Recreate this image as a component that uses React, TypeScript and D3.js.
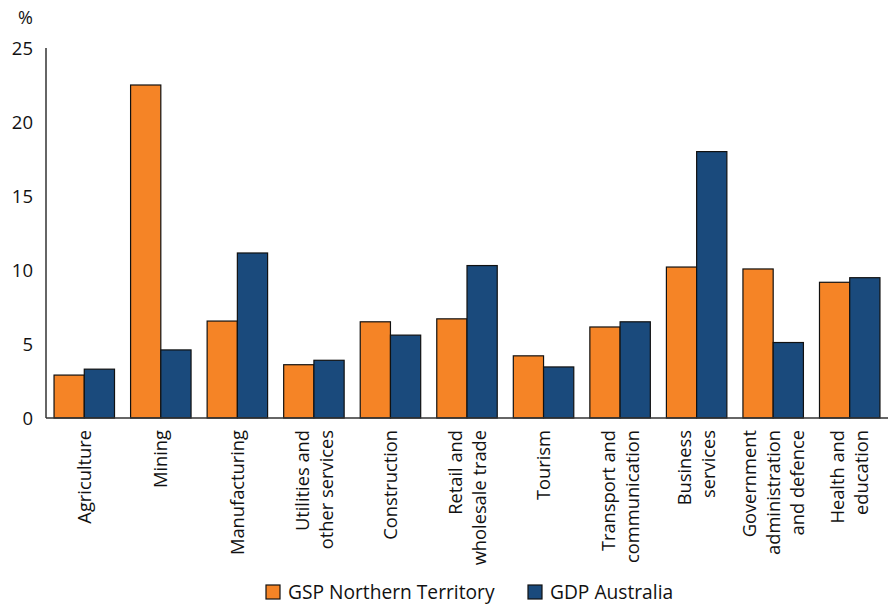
import React from "react";
import * as d3 from "d3";

// Industry shares of output, per cent
const categories: string[][] = [
  ["Agriculture"],
  ["Mining"],
  ["Manufacturing"],
  ["Utilities and", "other services"],
  ["Construction"],
  ["Retail and", "wholesale trade"],
  ["Tourism"],
  ["Transport and", "communication"],
  ["Business", "services"],
  ["Government", "administration", "and defence"],
  ["Health and", "education"],
];
const gspNT = [2.9, 22.5, 6.55, 3.6, 6.5, 6.7, 4.2, 6.15, 10.2, 10.07, 9.17];
const gdpAus = [3.3, 4.6, 11.15, 3.9, 5.6, 10.3, 3.45, 6.5, 18.0, 5.1, 9.48];
const yTicks = [0, 5, 10, 15, 20, 25];
const seriesNames = ["GSP Northern Territory", "GDP Australia"];
const seriesColors = ["#F58426", "#1A4A7C"];

const W = 890;
const H = 605;
const left = 46;
const right = 888;
const top = 48;
const bottom = 418;
const font = "'Open Sans', 'Noto Sans', sans-serif";

export default function App() {
  const x = d3
    .scaleBand<number>()
    .domain(d3.range(categories.length))
    .range([left, right])
    .paddingInner(0.21)
    .paddingOuter(0.105);
  const inner = d3.scaleBand<number>().domain([0, 1]).range([0, x.bandwidth()]);
  const y = d3.scaleLinear().domain([0, 25]).range([bottom, top]);
  const series = [gspNT, gdpAus];
  const lineGap = 24;

  return (
    <svg
      width={W}
      height={H}
      style={{ position: "absolute", left: 0, top: 0, background: "#fff" }}
      fontFamily={font}
    >
      {/* bars */}
      {series.map((vals, s) =>
        vals.map((v, i) => (
          <rect
            key={`${s}-${i}`}
            x={(x(i) as number) + (inner(s) as number)}
            y={y(v)}
            width={inner.bandwidth()}
            height={bottom - y(v)}
            fill={seriesColors[s]}
            stroke="#111"
            strokeWidth={1.2}
          />
        ))
      )}

      {/* axes */}
      <line x1={left} x2={left} y1={top} y2={bottom} stroke="#333" strokeWidth={1.5} />
      <line x1={left} x2={right} y1={bottom} y2={bottom} stroke="#333" strokeWidth={1.5} />

      {/* y tick labels */}
      {yTicks.map((t) => (
        <text
          key={t}
          x={33}
          y={y(t)}
          dy="0.36em"
          textAnchor="end"
          fontSize={18.5}
          fill="#111"
        >
          {t}
        </text>
      ))}
      <text x={33} y={18} dy="0.36em" textAnchor="end" fontSize={18} fill="#111">
        %
      </text>

      {/* category labels, rotated */}
      {categories.map((lines, i) => {
        const cx = (x(i) as number) + x.bandwidth() / 2;
        return lines.map((ln, j) => {
          const lx = cx + (j - (lines.length - 1) / 2) * lineGap;
          return (
            <text
              key={`${i}-${j}`}
              transform={`translate(${lx},${bottom + 12}) rotate(-90)`}
              dy="0.36em"
              textAnchor="end"
              fontSize={18.3}
              fill="#111"
            >
              {ln}
            </text>
          );
        });
      })}

      {/* legend */}
      {seriesNames.map((name, s) => {
        const lx = s === 0 ? 266 : 528;
        return (
          <g key={name}>
            <rect
              x={lx}
              y={585}
              width={14}
              height={14}
              fill={seriesColors[s]}
              stroke="#111"
              strokeWidth={1.2}
            />
            <text x={lx + 22} y={592} dy="0.36em" fontSize={19.2} fill="#111">
              {name}
            </text>
          </g>
        );
      })}
    </svg>
  );
}
